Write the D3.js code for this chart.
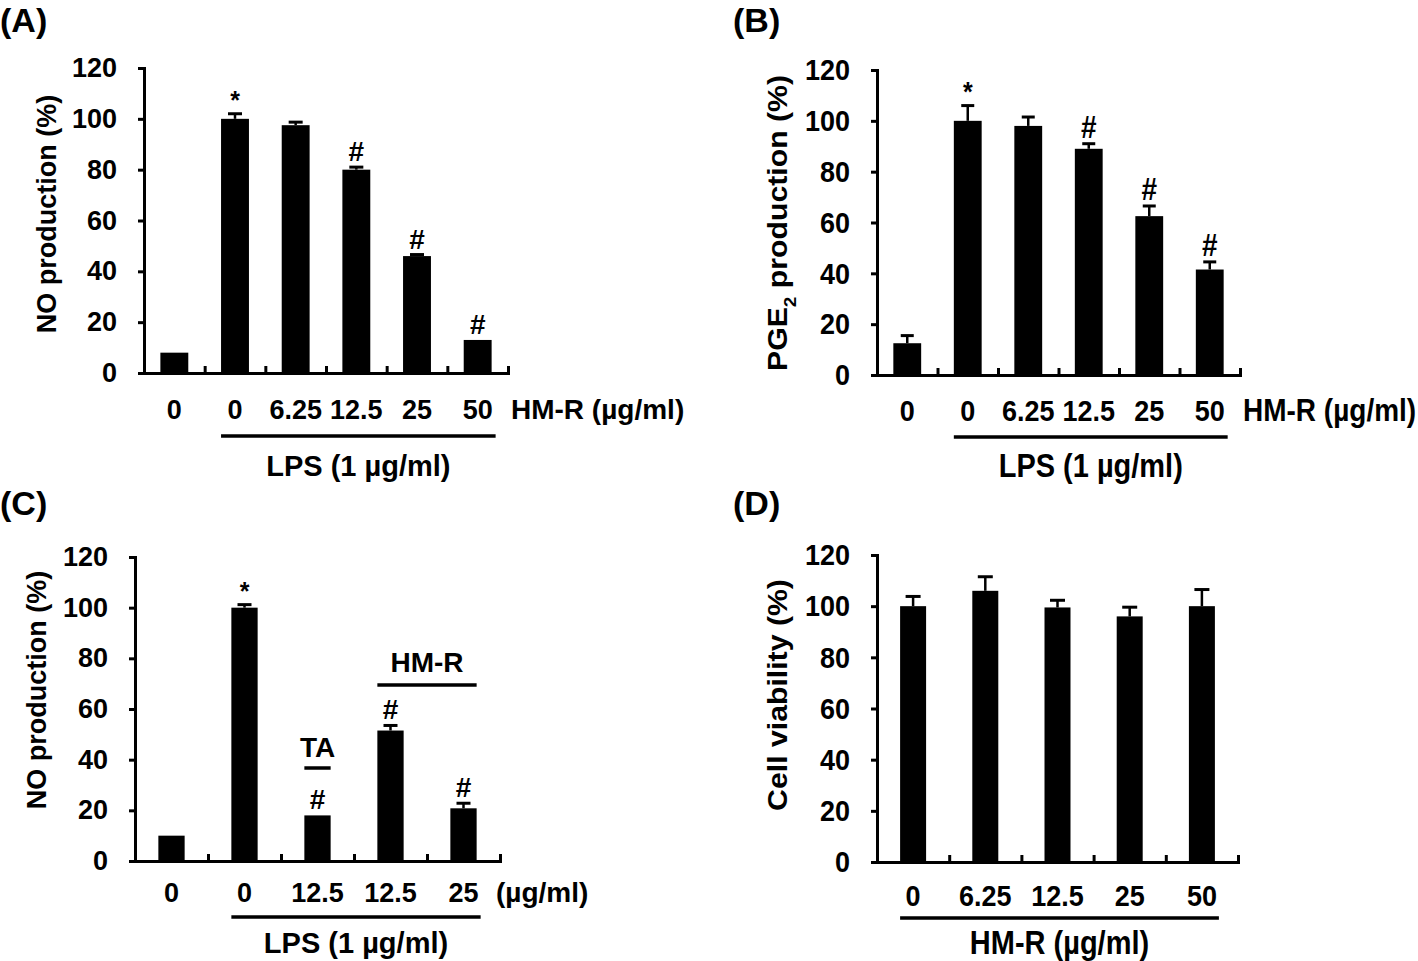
<!DOCTYPE html>
<html>
<head>
<meta charset="utf-8">
<script src="https://cdn.jsdelivr.net/npm/d3@7"></script>
<style>
body { margin: 0; background: #fff; }
text { font-family: "Liberation Sans", Arial, sans-serif; font-weight: bold; fill: #000; }
</style>
</head>
<body>
<svg id="fig" width="1418" height="961"></svg>
<script>
// shared y ticks
var yTicks = [0, 20, 40, 60, 80, 100, 120];

// (A) NO production
var labelsA = ["0", "0", "6.25", "12.5", "25", "50"];
var valuesA = [8, 100, 97.5, 80, 46, 13];
var errorsA = [0, 2, 1.2, 1, 0.6, 0];
var marksA = ["", "*", "", "#", "#", "#"];

// (B) PGE2 production
var labelsB = ["0", "0", "6.25", "12.5", "25", "50"];
var valuesB = [12.5, 100, 98, 89, 62.5, 41.5];
var errorsB = [3, 6, 3.5, 2, 4, 3];
var marksB = ["", "*", "", "#", "#", "#"];

// (C) NO production, TA vs HM-R
var labelsC = ["0", "0", "12.5", "12.5", "25"];
var valuesC = [10, 100, 18, 51.5, 20.8];
var errorsC = [0, 1.2, 0, 2, 2];
var marksC = ["", "*", "#", "#", "#"];

// (D) cell viability
var labelsD = ["0", "6.25", "12.5", "25", "50"];
var valuesD = [100, 106, 99.5, 96, 100];
var errorsD = [3.8, 5.5, 2.8, 3.6, 6.5];
var marksD = ["", "", "", "", ""];

var svg = d3.select("#fig");
var FS = 27;

// text with its baseline at (x,y), optional vertical stretch
function label(g, x, y, str, size, anchor, sy, rot) {
    var t = g.append("g")
        .attr("transform", "translate(" + x + "," + y + ") scale(1," + (sy || 1) + ")" + (rot ? " rotate(-90)" : ""))
        .append("text")
        .attr("text-anchor", anchor || "middle")
        .style("font-size", size + "px");
    if (str !== null) t.text(str);
    return t;
}

function drawPanel(p) {
    var g = svg.append("g");
    var n = p.values.length;
    var sy = p.sy || 1;

    var y = d3.scaleLinear().domain([0, 120]).range([p.bottom, p.top]);
    var x = d3.scaleBand().domain(d3.range(n)).range([p.left, p.right]).padding(0);
    var xi = d3.scaleLinear().domain([0, n]).range([p.left, p.right]);
    var bw = x.bandwidth() * p.barRatio;
    var cx = function(i) { return x(i) + x.bandwidth() / 2; };

    // bars
    g.selectAll("rect.bar")
        .data(p.values)
        .join("rect")
        .attr("class", "bar")
        .attr("x", function(d, i) { return cx(i) - bw / 2; })
        .attr("y", function(d) { return y(d); })
        .attr("width", bw)
        .attr("height", function(d) { return y(0) - y(d); })
        .attr("fill", "#000");

    // upper error bars
    p.values.forEach(function(v, i) {
        var e = p.errors[i];
        if (e <= 0) return;
        g.append("line")
            .attr("x1", cx(i)).attr("x2", cx(i))
            .attr("y1", y(v)).attr("y2", y(v + e))
            .attr("stroke", "#000").attr("stroke-width", 2.5);
        g.append("line")
            .attr("x1", cx(i) - p.cap / 2).attr("x2", cx(i) + p.cap / 2)
            .attr("y1", y(v + e)).attr("y2", y(v + e))
            .attr("stroke", "#000").attr("stroke-width", 3);
    });

    // significance marks
    p.marks.forEach(function(m, i) {
        if (!m) return;
        var top = y(p.values[i] + p.errors[i]);
        if (m === "*") label(g, cx(i), top - 5, m, 25, "middle", sy);
        else label(g, cx(i), top - 6, m, 28, "middle", sy);
    });

    // y axis
    var yAxis = g.append("g")
        .attr("transform", "translate(" + p.left + ",0)")
        .call(d3.axisLeft(y).tickValues(yTicks).tickSize(6).tickSizeOuter(0).tickPadding(21));
    yAxis.select(".domain").attr("stroke-width", 3).attr("stroke-linecap", "square");
    yAxis.selectAll(".tick line").attr("stroke-width", 3);
    yAxis.selectAll(".tick text")
        .style("font-size", FS + "px")
        .style("font-family", "'Liberation Sans', Arial, sans-serif")
        .style("font-weight", "bold")
        .attr("transform", "scale(1," + sy + ")");

    // x axis with inward ticks between groups
    var xAxis = g.append("g")
        .attr("transform", "translate(0," + p.bottom + ")")
        .call(d3.axisBottom(xi).tickValues(d3.range(1, n + 1)).tickSize(-7).tickSizeOuter(0).tickFormat(""));
    xAxis.select(".domain").attr("stroke-width", 3).attr("stroke-linecap", "square");
    xAxis.selectAll(".tick line").attr("stroke-width", 3);

    // category labels
    p.labels.forEach(function(s, i) {
        label(g, cx(i), p.labelY + 9.7 * sy, s, FS, "middle", sy);
    });
    if (p.suffix) label(g, p.right + p.suffixGap, p.labelY + 9.7 * sy, p.suffix, 28, "start", sy);

    // group underline
    var gx0 = cx(p.groupFrom) - bw / 2, gx1 = cx(n - 1) + bw / 2 + 4;
    g.append("line")
        .attr("x1", gx0).attr("x2", gx1)
        .attr("y1", p.groupLineY).attr("y2", p.groupLineY)
        .attr("stroke", "#000").attr("stroke-width", 3.5);
    label(g, (gx0 + gx1) / 2, p.groupTextY + 10 * sy, p.groupText, 29, "middle", sy);

    // y title
    var t = label(g, p.titleX, p.titleY, null, FS, "middle", sy, true);
    p.yTitle.forEach(function(part) {
        var ts = t.append("tspan").text(part.t);
        if (part.sub) ts.attr("baseline-shift", "sub").style("font-size", "17px");
    });

    // panel letter
    label(g, p.letterX, p.letterY, p.letter, 34, "start", 1);

    return { g: g, x: x, y: y, cx: cx, bw: bw };
}

drawPanel({
    values: valuesA, errors: errorsA, marks: marksA, labels: labelsA,
    left: 144, right: 508, top: 68, bottom: 373, barRatio: 0.46, cap: 14,
    labelY: 409, suffix: "HM-R (\u00b5g/ml)", suffixGap: 3,
    groupFrom: 1, groupLineY: 436, groupText: "LPS (1 \u00b5g/ml)", groupTextY: 466,
    yTitle: [{ t: "NO production (%)" }], titleX: 56, titleY: 214,
    letter: "(A)", letterX: 0, letterY: 32
});

drawPanel({
    values: valuesB, errors: errorsB, marks: marksB, labels: labelsB,
    left: 877, right: 1240, top: 70, bottom: 375, barRatio: 0.46, cap: 13, sy: 1.12,
    labelY: 410, suffix: "HM-R (\u00b5g/ml)", suffixGap: 3,
    groupFrom: 1, groupLineY: 437, groupText: "LPS (1 \u00b5g/ml)", groupTextY: 466,
    yTitle: [{ t: "PGE" }, { t: "2", sub: true }, { t: " production (%)" }], titleX: 787, titleY: 223,
    letter: "(B)", letterX: 733, letterY: 32
});

var pc = drawPanel({
    values: valuesC, errors: errorsC, marks: marksC, labels: labelsC,
    left: 135, right: 500, top: 557, bottom: 861, barRatio: 0.36, cap: 14,
    labelY: 892, suffix: "(\u00b5g/ml)", suffixGap: -4,
    groupFrom: 1, groupLineY: 917, groupText: "LPS (1 \u00b5g/ml)", groupTextY: 943,
    yTitle: [{ t: "NO production (%)" }], titleX: 46, titleY: 690,
    letter: "(C)", letterX: 0, letterY: 515
});

// treatment brackets in (C): TA over bar 3, HM-R over bars 4-5
var taX0 = pc.cx(2) - pc.bw / 2, taX1 = pc.cx(2) + pc.bw / 2;
pc.g.append("line").attr("x1", taX0).attr("x2", taX1).attr("y1", 768).attr("y2", 768)
    .attr("stroke", "#000").attr("stroke-width", 3.5);
label(pc.g, pc.cx(2), 747 + 9.7, "TA", 28, "middle", 1);
var hmX0 = pc.cx(3) - pc.bw / 2, hmX1 = pc.cx(4) + pc.bw / 2;
pc.g.append("line").attr("x1", hmX0).attr("x2", hmX1).attr("y1", 685).attr("y2", 685)
    .attr("stroke", "#000").attr("stroke-width", 3.5);
label(pc.g, (hmX0 + hmX1) / 2, 662 + 9.7, "HM-R", 28, "middle", 1);

drawPanel({
    values: valuesD, errors: errorsD, marks: marksD, labels: labelsD,
    left: 877, right: 1238, top: 555, bottom: 862, barRatio: 0.36, cap: 15, sy: 1.12,
    labelY: 895, suffix: null,
    groupFrom: 0, groupLineY: 918, groupText: "HM-R (\u00b5g/ml)", groupTextY: 943,
    yTitle: [{ t: "Cell viability (%)" }], titleX: 787, titleY: 695,
    letter: "(D)", letterX: 733, letterY: 515
});
</script>
</body>
</html>
